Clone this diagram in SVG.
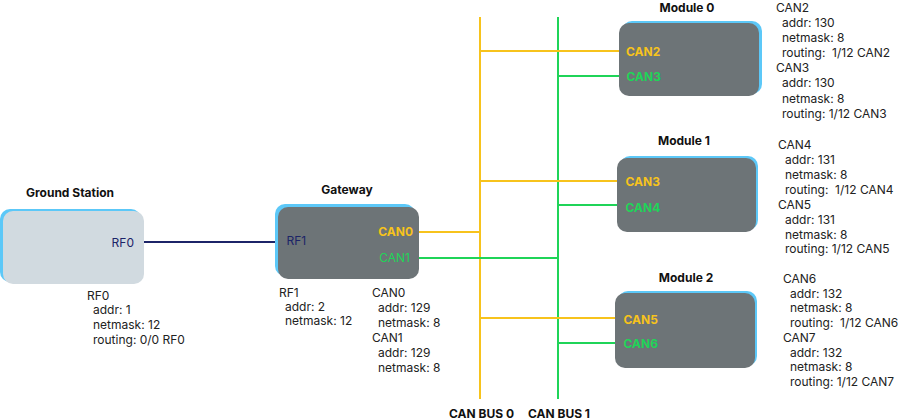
<svg xmlns="http://www.w3.org/2000/svg" width="899" height="419" viewBox="0 0 899 419">
<style>
text{font-family:Inter,"Noto Sans","Liberation Sans",sans-serif;font-size:12px;fill:#222;white-space:pre}
.title{font-weight:700;text-anchor:middle;fill:#111}
.blue{fill:#5cc8f8}
.grey{fill:#6d7477}
.gs{fill:#d1dae0}
.rf{fill:#1c2468}
.y{fill:#f7c31c;font-weight:700}
.g{fill:#1fd458;font-weight:700}
.gr{fill:#1fd458}
.yl{stroke:#f7c31c;stroke-width:2;fill:none}
.gl{stroke:#1fd458;stroke-width:2;fill:none}
.nl{stroke:#1c2468;stroke-width:2;fill:none}
</style>
<g id="connectors">
<line class="yl" x1="480" y1="17" x2="480" y2="399"/>
<line class="gl" x1="558" y1="17" x2="558" y2="399"/>
<line class="nl" x1="141" y1="242" x2="278" y2="242"/>
<line class="yl" x1="418" y1="232" x2="480" y2="232"/>
<line class="gl" x1="418" y1="258" x2="558" y2="258"/>
<line class="yl" x1="480" y1="51" x2="620" y2="51"/>
<line class="gl" x1="558" y1="76" x2="620" y2="76"/>
<line class="yl" x1="480" y1="181" x2="618" y2="181"/>
<line class="gl" x1="558" y1="205" x2="618" y2="205"/>
<line class="yl" x1="480" y1="318" x2="616" y2="318"/>
<line class="gl" x1="558" y1="343" x2="616" y2="343"/>
</g>
<g id="ground-station">
<text class="title" x="70" y="197">Ground Station</text>
<rect class="blue" x="0" y="209" width="141" height="73" rx="10"/>
<rect class="gs" x="3" y="211" width="141" height="73" rx="10"/>
<text class="rf" x="134" y="247" text-anchor="end">RF0</text>
<text x="87" y="299.5">RF0</text>
<text x="93" y="314.3">addr: 1</text>
<text x="93" y="329">netmask: 12</text>
<text x="93" y="343.8">routing: 0/0 RF0</text>
</g>
<g id="gateway">
<text class="title" x="347" y="194">Gateway</text>
<rect class="blue" x="275" y="204" width="140" height="72" rx="10"/>
<rect class="grey" x="278" y="207" width="141" height="72" rx="10"/>
<text class="rf" x="286.5" y="245">RF1</text>
<text class="y" x="413" y="236" text-anchor="end">CAN0</text>
<text class="gr" x="410" y="262" text-anchor="end">CAN1</text>
<text x="279" y="297">RF1</text>
<text x="285" y="311">addr: 2</text>
<text x="285" y="325">netmask: 12</text>
<text x="372" y="297">CAN0</text>
<text x="378" y="312">addr: 129</text>
<text x="378" y="327">netmask: 8</text>
<text x="372" y="342">CAN1</text>
<text x="378" y="357">addr: 129</text>
<text x="378" y="372">netmask: 8</text>
</g>
<g id="module0">
<text class="title" x="687" y="12">Module 0</text>
<rect class="blue" x="622" y="21" width="140" height="73" rx="10"/>
<rect class="grey" x="619" y="23" width="140" height="73" rx="10"/>
<text class="y" x="626" y="55.5">CAN2</text>
<text class="g" x="626.5" y="80.5">CAN3</text>
<text x="776" y="12">CAN2</text>
<text x="782" y="26.8">addr: 130</text>
<text x="782" y="41.8">netmask: 8</text>
<text x="782" y="56.8">routing:  1/12 CAN2</text>
<text x="776" y="72">CAN3</text>
<text x="782" y="87.2">addr: 130</text>
<text x="782" y="102.5">netmask: 8</text>
<text x="782" y="117.7">routing: 1/12 CAN3</text>
</g>
<g id="module1">
<text class="title" x="684" y="145">Module 1</text>
<rect class="blue" x="620" y="156" width="138" height="74" rx="10"/>
<rect class="grey" x="617" y="158" width="139" height="74" rx="10"/>
<text class="y" x="625.5" y="185.5">CAN3</text>
<text class="g" x="625.5" y="211.5">CAN4</text>
<text x="778" y="149.4">CAN4</text>
<text x="785" y="164.3">addr: 131</text>
<text x="785" y="179.1">netmask: 8</text>
<text x="785" y="194">routing:  1/12 CAN4</text>
<text x="778" y="208.8">CAN5</text>
<text x="785" y="223.7">addr: 131</text>
<text x="785" y="238.5">netmask: 8</text>
<text x="785" y="253.4">routing: 1/12 CAN5</text>
</g>
<g id="module2">
<text class="title" x="686" y="282">Module 2</text>
<rect class="blue" x="618" y="291" width="139" height="75" rx="10"/>
<rect class="grey" x="615" y="293" width="140" height="75" rx="10"/>
<text class="y" x="623.5" y="323.5">CAN5</text>
<text class="g" x="623.5" y="347.5">CAN6</text>
<text x="783" y="282.7">CAN6</text>
<text x="790" y="297.5">addr: 132</text>
<text x="790" y="312.2">netmask: 8</text>
<text x="790" y="327">routing:  1/12 CAN6</text>
<text x="783" y="341.7">CAN7</text>
<text x="790" y="356.5">addr: 132</text>
<text x="790" y="371.3">netmask: 8</text>
<text x="790" y="386">routing: 1/12 CAN7</text>
</g>
<g id="bus-labels">
<text class="title" x="481.5" y="417.5">CAN BUS 0</text>
<text class="title" x="559" y="417.5">CAN BUS 1</text>
</g>
</svg>
